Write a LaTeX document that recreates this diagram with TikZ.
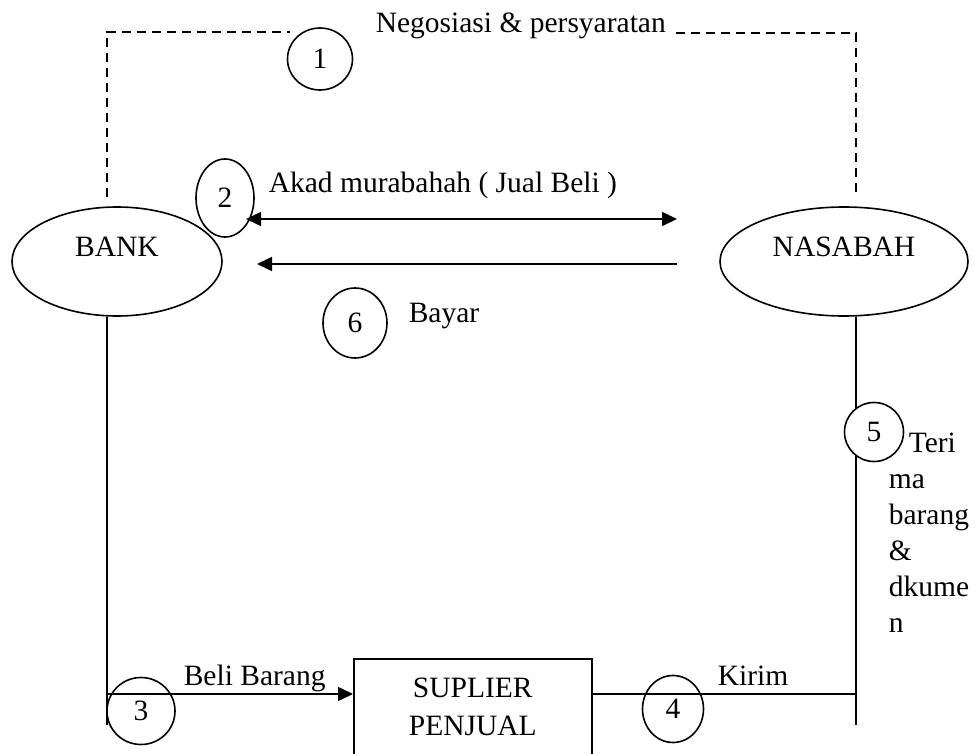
\documentclass[tikz,border=0pt]{standalone}
\usepackage{fontspec}
\setmainfont{Liberation Serif}
\usetikzlibrary{shapes.geometric,arrows.meta}
\tikzset{
  pihak/.style={draw,ellipse,minimum width=210pt,minimum height=109pt,text depth=29pt},
  nomor/.style={draw,ellipse,fill=white,inner sep=0pt},
  teks/.style={inner sep=0pt,anchor=base west},
  putus/.style={dash pattern=on 9pt off 6pt},
  panah/.style={-{Triangle[length=15pt,width=14pt]}},
  panahdua/.style={{Triangle[length=15pt,width=14pt]}-{Triangle[length=15pt,width=14pt]}}
}
\begin{document}
\begin{tikzpicture}[x=1pt,y=-1pt,line width=1.6pt,every node/.style={font=\fontsize{29.5}{36}\selectfont}]
   \useasboundingbox (0,0) rectangle (975,754);
   \clip (0,0) rectangle (975,754);
   % pihak
   \node [pihak] (bank) at (117,261.5) {BANK};
   \node [pihak,minimum width=248pt] (nasabah) at (844,261.5) {NASABAH};
   \node [draw,anchor=north west,minimum width=238pt,inner ysep=19pt,text depth=100pt,align=center,
    font=\fontsize{29.5}{38}\selectfont] (suplier) at (353,658) {SUPLIER\\PENJUAL};
   % garis pihak
   \coordinate (ujungkiri) at (107,725);
   \coordinate (ujungkanan) at (856,725);
   \coordinate (belok3) at (107,694);
   \coordinate (belok4) at (856,694);
   \draw ([xshift=-10pt]bank.south) -- (ujungkiri);
   \draw ([xshift=12pt]nasabah.south) -- (ujungkanan);
   % nomor
   \node [nomor,minimum width=65pt,minimum height=62pt] (n1) at (320,59) {1};
   \node [nomor,minimum width=58pt,minimum height=78pt] (n2) at (225,198) {2};
   \node [nomor,minimum width=68pt,minimum height=67pt] (n3) at (141,711) {3};
   \node [nomor,minimum width=61pt,minimum height=67pt] (n4) at (673,709) {4};
   \node [nomor,minimum width=59pt,minimum height=59pt] (n5) at (874,432) {5};
   \node [nomor,minimum width=64pt,minimum height=70pt] (n6) at (355,323) {6};
   % 1
   \coordinate (ujung1) at (290,32);
   \node [teks] (negosiasi) at (375,33) {Negosiasi \& persyaratan};
   \draw [putus] ([xshift=-10pt,yshift=9pt]bank.north) |- (ujung1);
   \draw [putus] ([xshift=9pt]negosiasi.base east) -| ([xshift=12pt,yshift=9pt]nasabah.north);
   % 2
   \coordinate (akadkiri) at (246,219);
   \coordinate (akadkanan) at (677,219);
   \node [teks] (akad) at (268,193) {Akad murabahah ( Jual Beli )};
   \draw [panahdua] (akadkiri) -- (akadkanan);
   % 6
   \coordinate (bayarkanan) at (677,264);
   \coordinate (bayarkiri) at (257,264);
   \node [teks] (bayar) at (408,322) {Bayar};
   \draw [panah] (bayarkanan) -- (bayarkiri);
   % 3
   \node [teks] (beli) at (183,685) {Beli Barang};
   \draw [panah] (belok3) -- (belok3 -| suplier.west);
   % 4
   \node [teks] (kirim) at (717,685) {Kirim};
   \draw (suplier.east |- belok4) -- (belok4);
   % 5
   \node [teks,anchor=north west,align=left] (terima) at (888,432) {\hspace*{20pt}Teri\\ma\\barang\\\&\\dkume\\n};
\end{tikzpicture}
\end{document}
